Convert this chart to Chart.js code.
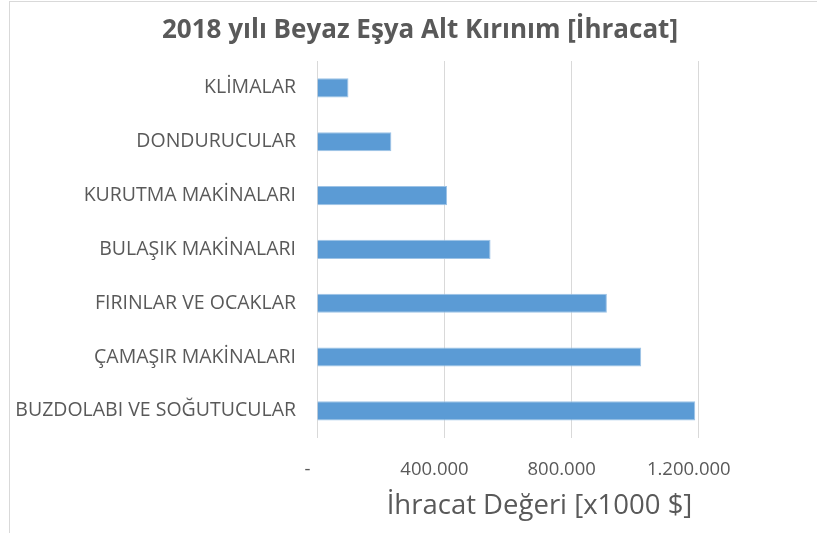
<!DOCTYPE html>
<html>
<head>
<meta charset="utf-8">
<script src="https://cdn.jsdelivr.net/npm/chart.js@4/dist/chart.umd.min.js"></script>
<style>
  html, body { margin: 0; padding: 0; background: #fff; overflow: hidden; }
  #frame { position: absolute; left: 9px; top: 1px; width: 900px; height: 600px; border: 1px solid #d9d9d9; }
  #exportChart { position: absolute; left: 0; top: 0; }
</style>
</head>
<body>
<div id="frame"></div>
<canvas id="exportChart" width="817" height="533"></canvas>
<script>
const chartTitle = "2018 yılı Beyaz Eşya Alt Kırınım [İhracat]";
const axisTitle = "İhracat Değeri [x1000 $]";
const categories = [
  "KLİMALAR",
  "DONDURUCULAR",
  "KURUTMA MAKİNALARI",
  "BULAŞIK MAKİNALARI",
  "FIRINLAR VE OCAKLAR",
  "ÇAMAŞIR MAKİNALARI",
  "BUZDOLABI VE SOĞUTUCULAR"
];
const exportValues = [99000, 234000, 409000, 546000, 912000, 1020000, 1190000];
const tickValues = [0, 400000, 800000, 1200000];
const tickLabels = ["-", "400.000", "800.000", "1.200.000"];

const textColor = "#595959";
const fontFamily = "'Open Sans', 'Noto Sans', sans-serif";

// title is drawn by hand so it can sit centred on the whole frame, not the plot
const titlePlugin = {
  id: "frameTitle",
  afterDraw(chart) {
    const ctx = chart.ctx;
    ctx.save();
    ctx.font = "bold 26px " + fontFamily;
    ctx.fillStyle = textColor;
    ctx.textAlign = "center";
    ctx.textBaseline = "middle";
    ctx.fillText(chartTitle, 420, 31);
    ctx.restore();
  }
};

const ctx = document.getElementById("exportChart").getContext("2d");
new Chart(ctx, {
  type: "bar",
  data: {
    labels: categories,
    datasets: [{
      label: "İhracat",
      data: exportValues,
      backgroundColor: "#5b9bd5",
      borderColor: "#9dc3e6",
      borderWidth: 1,
      borderSkipped: "start",
      categoryPercentage: 1,
      barPercentage: 0.355
    }]
  },
  options: {
    indexAxis: "y",
    responsive: false,
    animation: false,
    layout: { padding: { top: 61, right: 55, left: 0, bottom: 10 } },
    plugins: {
      legend: { display: false },
      tooltip: { enabled: false },
      title: { display: false }
    },
    scales: {
      x: {
        min: 0,
        max: 1400000,
        border: { display: false },
        afterBuildTicks(scale) {
          scale.ticks = tickValues.map(v => ({ value: v }));
        },
        ticks: {
          color: textColor,
          font: { family: fontFamily, size: 18.5 },
          padding: 21,
          maxRotation: 0,
          // trailing spaces nudge the labels left, like the accounting format
          callback: function (value, index) {
            return tickLabels[index] + "    ";
          }
        },
        grid: { color: "#d9d9d9", lineWidth: 1, drawTicks: false },
        title: {
          display: true,
          text: axisTitle,
          color: textColor,
          font: { family: fontFamily, size: 27.5 },
          padding: { top: -12, bottom: 0 }
        }
      },
      y: {
        border: { display: false },
        grid: { display: false, drawTicks: false },
        afterFit(scale) {
          scale.width = 317;
        },
        ticks: {
          color: textColor,
          font: { family: fontFamily, size: 19.5 },
          padding: 21
        }
      }
    }
  },
  plugins: [titlePlugin]
});
</script>
</body>
</html>
